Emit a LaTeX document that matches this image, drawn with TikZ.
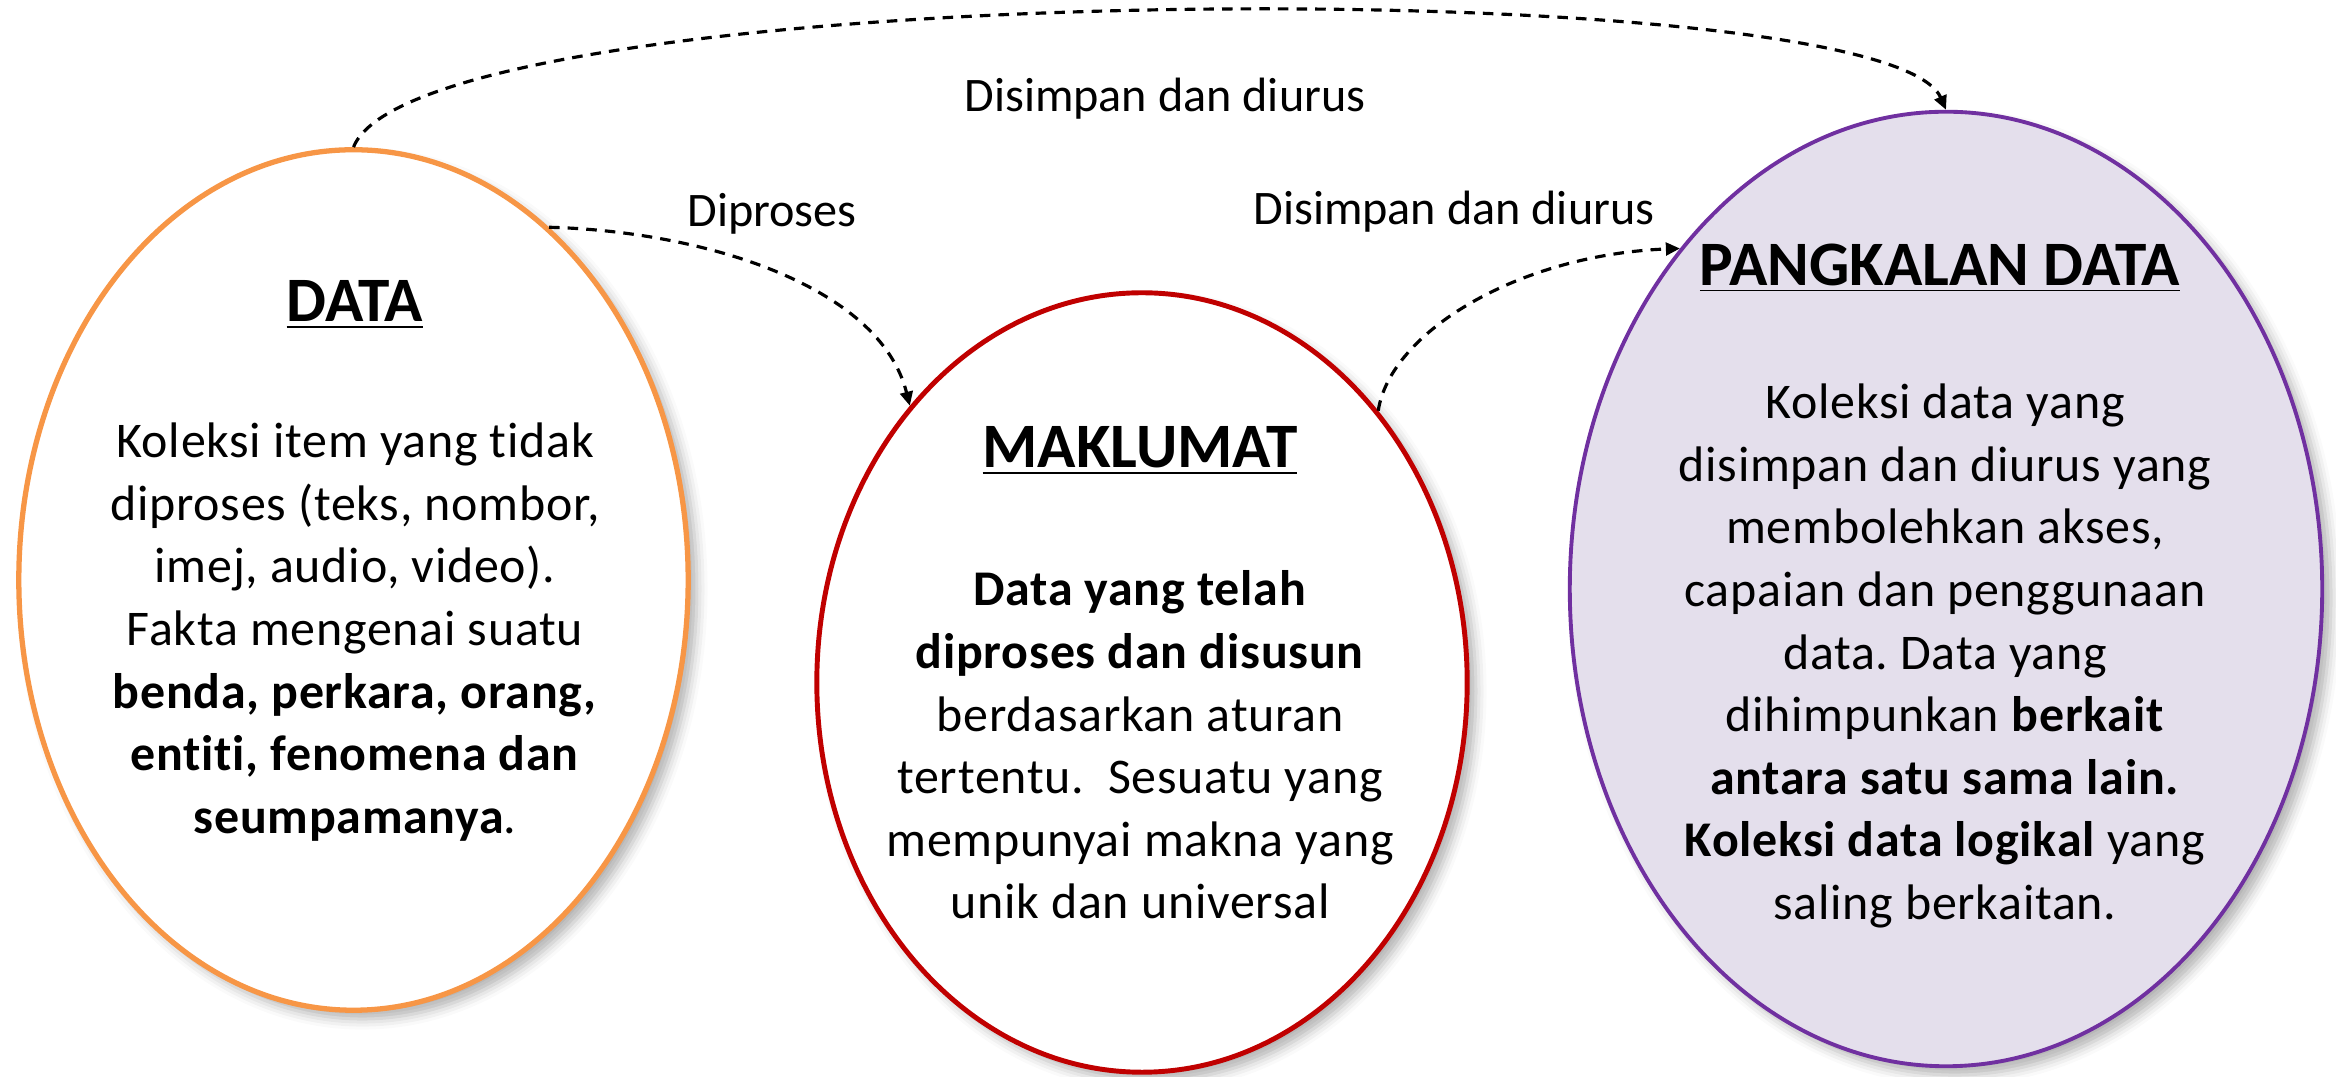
\documentclass[tikz,border=0pt]{standalone}
\usepackage{fontspec}
\setmainfont{Carlito}[Ligatures=NoCommon]
\newfontfamily\bodyfont{Carlito}[Ligatures=NoCommon, LetterSpace=1.5]
\frenchspacing
\usetikzlibrary{shapes.geometric,arrows.meta,shadows.blur}
\definecolor{dataorange}{HTML}{F79646}
\definecolor{infored}{HTML}{C00000}
\definecolor{dbpurple}{HTML}{7030A0}
\definecolor{dbfill}{HTML}{E4DFEC}

\begin{document}
\begin{tikzpicture}[x=0.01cm,y=-0.01cm,
  bubble/.style={ellipse, inner sep=0pt,
    blur shadow={shadow xshift=2.5pt, shadow yshift=-2.5pt, shadow blur radius=3pt, shadow opacity=30}},
  heading/.style={font=\fontsize{18}{22}\selectfont\bfseries},
  bodytext/.style={font=\bodyfont\fontsize{14.2}{17.8}\selectfont, align=center},
  flowlabel/.style={font=\fontsize{13.7}{17}\selectfont},
  flow/.style={draw=black, line width=0.9pt, dash pattern=on 3pt off 2.3pt,
    -{Triangle[length=4pt,width=3.6pt]}}
]
\useasboundingbox (0,0) rectangle (2336,1077);

% the three concept bubbles
\node[bubble, draw=dataorange, line width=1.5pt, fill=white,
      minimum width=6.69cm, minimum height=8.6cm] (data) at (353.5,580) {};
\node[bubble, draw=infored, line width=1.4pt, fill=white,
      minimum width=6.5cm, minimum height=7.79cm] (info) at (1142,682.5) {};
\node[bubble, draw=dbpurple, line width=1.1pt, fill=dbfill,
      minimum width=7.52cm, minimum height=9.54cm] (db) at (1946,589) {};

% DATA
\node[heading] (dataT) at (355,305) {\underline{DATA}};
\node[bodytext] (dataB) at (355,632) {Koleksi item yang tidak\\
  diproses (teks, nombor,\\ imej, audio, video).\\ Fakta mengenai suatu\\
  \textbf{benda, perkara, orang,}\\ \textbf{entiti, fenomena dan}\\
  \textbf{seumpamanya}.};

% MAKLUMAT
\node[heading] (infoT) at (1140,451) {\underline{MAKLUMAT}};
\node[bodytext] (infoB) at (1140,745) {\textbf{Data yang telah}\\
  \textbf{diproses dan disusun}\\ berdasarkan aturan\\
  tertentu.\ \ Sesuatu yang\\ mempunyai makna yang\\ unik dan universal};

% PANGKALAN DATA
\node[heading] (dbT) at (1940,268) {\underline{PANGKALAN DATA}};
\node[bodytext] (dbB) at (1945,656) {Koleksi data yang\\
  disimpan dan diurus yang\\ membolehkan akses,\\ capaian dan penggunaan\\
  data. Data yang\\ dihimpunkan \textbf{berkait}\\
  \textbf{antara satu sama lain.}\\ \textbf{Koleksi data logikal} yang\\
  saling berkaitan.};

% connectors
\draw[flow] (data.90) .. controls +(68,-170) and +(-62,-142) .. (db.90);
\draw[flow] (data.61.5) .. controls +(155,4) and +(-30,-120) .. (info.130.4);
\draw[flow] (info.49.8) .. controls +(12,-79) and +(-160,6) .. (db.128.3);

% connector labels
\node[flowlabel] (lblTop) at (1165,99) {Disimpan dan diurus};
\node[flowlabel] (lblProc) at (772,214) {Diproses};
\node[flowlabel] (lblStore) at (1454,212) {Disimpan dan diurus};
\end{tikzpicture}
\end{document}
